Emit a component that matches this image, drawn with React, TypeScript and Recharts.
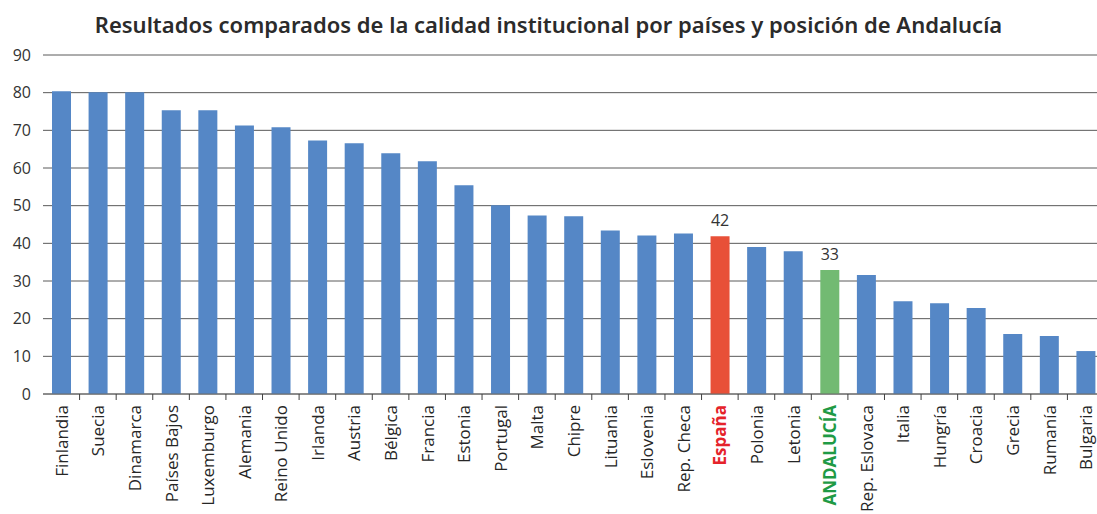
import React from "react";
import {
    BarChart,
    Bar,
    XAxis,
    YAxis,
    CartesianGrid,
    Cell,
    LabelList,
} from "recharts";

const paises = [
    "Finlandia", "Suecia", "Dinamarca", "Países Bajos", "Luxemburgo",
    "Alemania", "Reino Unido", "Irlanda", "Austria", "Bélgica",
    "Francia", "Estonia", "Portugal", "Malta", "Chipre",
    "Lituania", "Eslovenia", "Rep. Checa", "España", "Polonia",
    "Letonia", "ANDALUCÍA", "Rep. Eslovaca", "Italia", "Hungría",
    "Croacia", "Grecia", "Rumanía", "Bulgaria",
];
const valores = [
    80.4, 80.1, 80.1, 75.3, 75.3,
    71.3, 70.8, 67.3, 66.6, 63.9,
    61.8, 55.4, 50.1, 47.4, 47.2,
    43.4, 42.1, 42.6, 41.9, 39.0,
    37.9, 32.9, 31.6, 24.6, 24.1,
    22.8, 15.9, 15.4, 11.4,
];
// etiqueta sobre la barra (solo España y Andalucía)
const etiquetas: Record<string, string> = { "España": "42", "ANDALUCÍA": "33" };
const yTicks = [0, 10, 20, 30, 40, 50, 60, 70, 80, 90];

const BLUE = "#5587c6";
const RED_BAR = "#e85038";
const GREEN_BAR = "#72ba72";
const RED_TXT = "#e5232b";
const GREEN_TXT = "#1f9a45";
const FONT = "'Open Sans', sans-serif";

const data = paises.map((p, i) => ({ pais: p, valor: valores[i] }));

function barColor(p: string) {
    if (p === "España") return RED_BAR;
    if (p === "ANDALUCÍA") return GREEN_BAR;
    return BLUE;
}

function PaisTick(props: any) {
    const { x, y, payload, index } = props;
    const half = payload?.offset ?? 18.3;
    const p = payload.value;
    let fill = "#262626";
    let weight = 400;
    if (p === "España") { fill = RED_TXT; weight = 700; }
    if (p === "ANDALUCÍA") { fill = GREEN_TXT; weight = 700; }
    return (
        <g>
            {index > 0 && (
                <line x1={x - half} x2={x - half} y1={y} y2={y + 6} stroke="#404040" strokeWidth={1} />
            )}
            <text
                transform={`translate(${x},${y + 11}) rotate(-90)`}
                textAnchor="end"
                dominantBaseline="central"
                fontSize={17}
                fontFamily={FONT}
                fontWeight={weight}
                fill={fill}
            >
                {p}
            </text>
        </g>
    );
}

function ValorLabel(props: any) {
    const { x, y, width, index } = props;
    const txt = etiquetas[paises[index]];
    if (!txt) return null;
    return (
        <text x={x + width / 2} y={y - 10} textAnchor="middle" fontSize={16} fontFamily={FONT} fill="#333">
            {txt}
        </text>
    );
}

export default function App() {
    return (
        <div style={{ position: "absolute", left: 0, top: 0, width: 1097, height: 514, overflow: "hidden", background: "#fff" }}>
            <div
                style={{
                    position: "absolute",
                    top: 9,
                    left: 0,
                    width: 1097,
                    textAlign: "center",
                    fontFamily: "'Noto Sans', sans-serif",
                    fontWeight: 600,
                    fontSize: 22,
                    color: "#2b2b2b",
                    lineHeight: "30px",
                }}
            >
                Resultados comparados de la calidad institucional por países y posición de Andalucía
            </div>
            <BarChart
                width={1110}
                height={514}
                data={data}
                margin={{ top: 55, right: 6, left: 0, bottom: 0 }}
                style={{ position: "absolute", left: 0, top: 0 }}
            >
                <CartesianGrid vertical={false} stroke="#5a5a5a" />
                <YAxis
                    width={43}
                    domain={[0, 90]}
                    ticks={yTicks}
                    axisLine={false}
                    tickLine={false}
                    tickSize={0}
                    tickMargin={12}
                    tick={{ fill: "#333", fontSize: 16, fontFamily: FONT }}
                />
                <XAxis
                    dataKey="pais"
                    interval={0}
                    height={120}
                    axisLine={{ stroke: "#6a6a6a" }}
                    tickLine={false}
                    tickSize={0}
                    tickMargin={0}
                    tick={<PaisTick />}
                />
                <Bar dataKey="valor" barSize={19} isAnimationActive={false}>
                    {data.map((d) => (
                        <Cell key={d.pais} fill={barColor(d.pais)} />
                    ))}
                    <LabelList dataKey="valor" content={<ValorLabel />} />
                </Bar>
            </BarChart>
        </div>
    );
}
